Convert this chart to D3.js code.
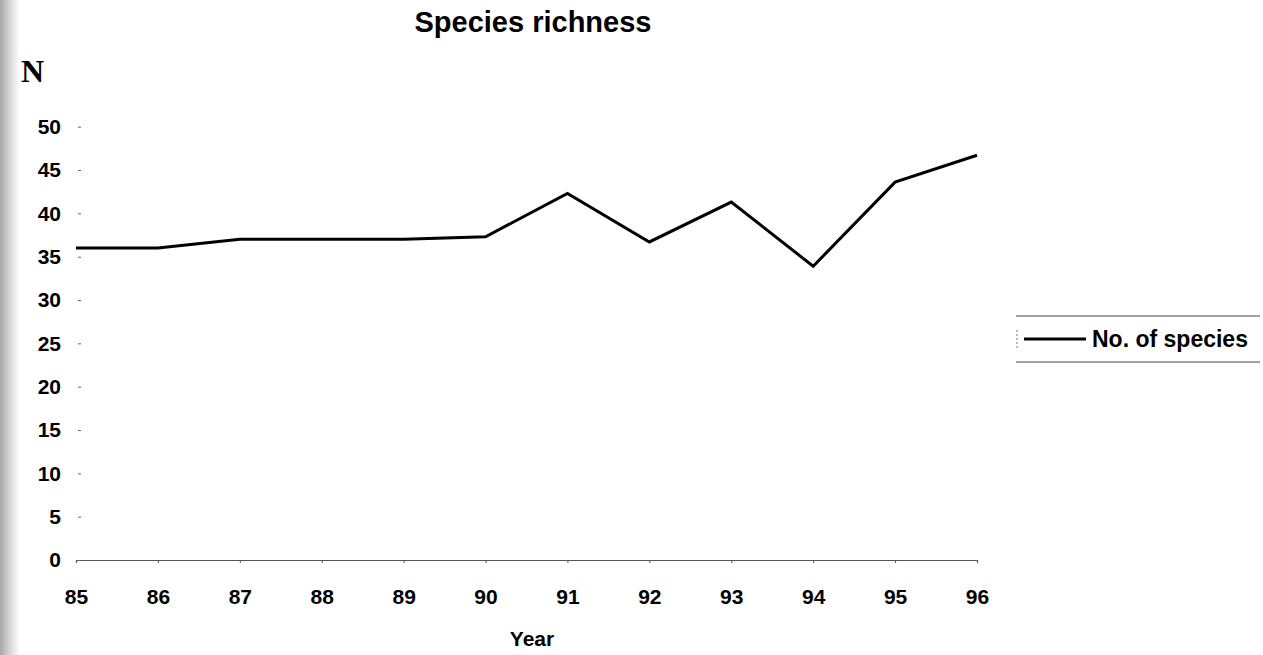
<!DOCTYPE html>
<html>
<head>
<meta charset="utf-8">
<script src="https://cdn.jsdelivr.net/npm/d3@7"></script>
<style>
  body { margin: 0; background: #fff; }
  svg text { font-family: "Liberation Sans", Arial, sans-serif; font-weight: bold; fill: #000; }
</style>
</head>
<body>
<svg width="1263" height="655"></svg>
<script>
var years = ["85", "86", "87", "88", "89", "90", "91", "92", "93", "94", "95", "96"];
var species = [36, 36, 37, 37, 37, 37.3, 42.3, 36.7, 41.3, 33.9, 43.6, 46.7];
var yTicks = [0, 5, 10, 15, 20, 25, 30, 35, 40, 45, 50];

var svg = d3.select("svg"),
    width = +svg.attr("width"),
    height = +svg.attr("height");

// scanned-page shadow on the left edge
var grad = svg.append("defs").append("linearGradient").attr("id", "edge");
grad.append("stop").attr("offset", "0%").attr("stop-color", "#a8a8a8");
grad.append("stop").attr("offset", "55%").attr("stop-color", "#dcdcdc");
grad.append("stop").attr("offset", "100%").attr("stop-color", "#fff");
svg.append("rect").attr("x", 0).attr("y", 0).attr("width", 20).attr("height", height)
    .attr("fill", "url(#edge)");

var x = d3.scalePoint()
    .domain(years)
    .range([76, 977]);

var y = d3.scaleLinear()
    .domain([0, 50])
    .range([560, 126.7]);

// x axis
var xAxis = svg.append("g")
    .attr("transform", "translate(0," + y(0) + ")")
    .call(d3.axisBottom(x).tickSize(3).tickPadding(26));
xAxis.select(".domain").attr("stroke", "#555").attr("stroke-width", 1.2);
xAxis.selectAll(".tick line").attr("stroke", "#555");
xAxis.selectAll("text").style("font-size", "21px").attr("fill", "#000");

// y axis: no axis line, only small dashes
var yAxis = svg.append("g")
    .attr("transform", "translate(81,0)")
    .call(d3.axisLeft(y).tickValues(yTicks).tickSize(3).tickPadding(17));
yAxis.select(".domain").remove();
yAxis.selectAll(".tick line").attr("stroke", "#666");
yAxis.selectAll("text").style("font-size", "21px").attr("fill", "#000");

// the series
var line = d3.line()
    .x(function(d, i) { return x(years[i]); })
    .y(function(d) { return y(d); });

svg.append("path")
    .datum(species)
    .attr("d", line)
    .attr("fill", "none")
    .attr("stroke", "#000")
    .attr("stroke-width", 3)
    .attr("stroke-linejoin", "miter");

// titles
svg.append("text")
    .attr("x", 533).attr("y", 32)
    .attr("text-anchor", "middle")
    .style("font-size", "29px")
    .text("Species richness");

svg.append("text")
    .attr("x", 532).attr("y", 646)
    .attr("text-anchor", "middle")
    .style("font-size", "21px")
    .text("Year");

svg.append("text")
    .attr("x", 21).attr("y", 82)
    .style("font-family", "'Liberation Serif', 'Times New Roman', serif")
    .style("font-size", "32px")
    .text("N");

// legend
var legend = svg.append("g").attr("transform", "translate(1016,316)");
legend.append("line").attr("x1", 0).attr("x2", 244).attr("y1", 0).attr("y2", 0)
    .attr("stroke", "#444").attr("stroke-width", 1.2);
legend.append("line").attr("x1", 0).attr("x2", 244).attr("y1", 46).attr("y2", 46)
    .attr("stroke", "#444").attr("stroke-width", 1.2);
legend.append("line").attr("x1", 1).attr("x2", 1).attr("y1", 14).attr("y2", 32)
    .attr("stroke", "#777").attr("stroke-width", 1).attr("stroke-dasharray", "2,2");
legend.append("line").attr("x1", 8).attr("x2", 70).attr("y1", 23).attr("y2", 23)
    .attr("stroke", "#000").attr("stroke-width", 3);
legend.append("text").attr("x", 76).attr("y", 31)
    .style("font-size", "23px")
    .text("No. of species");
</script>
</body>
</html>
